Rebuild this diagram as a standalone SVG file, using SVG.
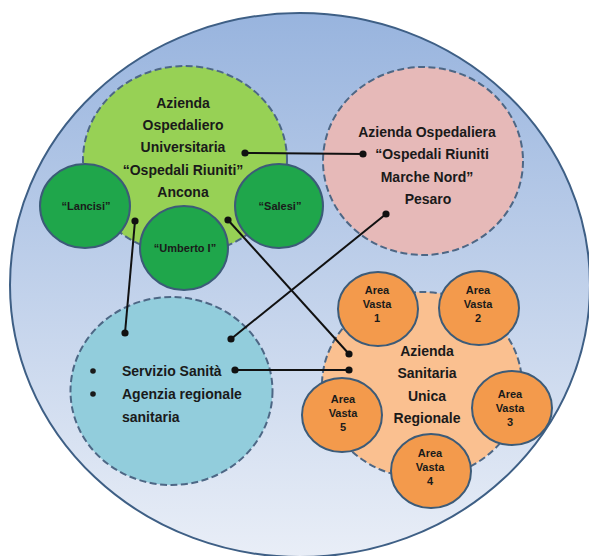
<svg xmlns="http://www.w3.org/2000/svg" width="589" height="556" viewBox="0 0 589 556">
<defs>
<linearGradient id="bg" x1="0" y1="0" x2="0" y2="1">
<stop offset="0" stop-color="#98b4de"/>
<stop offset="1" stop-color="#e9eef7"/>
</linearGradient>
<marker id="dot" viewBox="0 0 10 10" refX="5" refY="5" markerWidth="4" markerHeight="4" markerUnits="strokeWidth">
<circle cx="5" cy="5" r="4.5" fill="#111"/>
</marker>
</defs>
<style>
.dash{stroke:#4d6785;stroke-width:2;stroke-dasharray:7 3.5}
.sm{stroke:#3c5b78;stroke-width:2}
.t{font-family:"Liberation Sans",Arial,sans-serif;font-weight:bold;fill:#1a1a1a;text-anchor:middle}
.big{font-size:14px}
.s{font-size:11px}
.conn{stroke:#111;stroke-width:2;fill:none;marker-start:url(#dot);marker-end:url(#dot)}
</style>
<rect width="589" height="556" fill="#ffffff"/>
<g id="region">
<ellipse cx="300" cy="285" rx="290" ry="272" fill="url(#bg)" stroke="#3e5f85" stroke-width="2"/>
</g>
<g id="aou-ancona">
<ellipse cx="185" cy="160" rx="102" ry="94" fill="#97d155" class="dash"/>
<text class="t big" x="183" y="108">Azienda</text>
<text class="t big" x="183" y="130">Ospedaliero</text>
<text class="t big" x="183" y="152">Universitaria</text>
<text class="t big" x="183" y="175">“Ospedali Riuniti”</text>
<text class="t big" x="183" y="197">Ancona</text>
</g>
<g id="lancisi">
<ellipse cx="85" cy="206" rx="45" ry="42" fill="#1fa64b" class="sm"/>
<text class="t s" x="86" y="210">“Lancisi”</text>
</g>
<g id="salesi">
<ellipse cx="279" cy="206" rx="44" ry="42" fill="#1fa64b" class="sm"/>
<text class="t s" x="280" y="210">“Salesi”</text>
</g>
<g id="umberto">
<ellipse cx="184" cy="248" rx="44" ry="42" fill="#1fa64b" class="sm"/>
<text class="t s" x="185" y="252">“Umberto I”</text>
</g>
<g id="ao-pesaro">
<ellipse cx="423" cy="161" rx="100" ry="94" fill="#e6b9b8" class="dash"/>
<text class="t big" x="427" y="137">Azienda Ospedaliera</text>
<text class="t big" x="432" y="159">“Ospedali Riuniti</text>
<text class="t big" x="427" y="182">Marche Nord”</text>
<text class="t big" x="428" y="204">Pesaro</text>
</g>
<g id="servizio">
<ellipse cx="171.5" cy="391" rx="101" ry="94" fill="#92cddc" class="dash"/>
<circle cx="93" cy="371" r="2.8" fill="#1a1a1a"/>
<circle cx="93" cy="394" r="2.8" fill="#1a1a1a"/>
<text class="t big" x="122" y="376" style="text-anchor:start">Servizio Sanità</text>
<text class="t big" x="122" y="399" style="text-anchor:start">Agenzia regionale</text>
<text class="t big" x="122" y="422" style="text-anchor:start">sanitaria</text>
</g>
<g id="asur">
<ellipse cx="422" cy="385" rx="100" ry="93" fill="#fac090" class="dash"/>
<text class="t big" x="427" y="356">Azienda</text>
<text class="t big" x="427" y="378">Sanitaria</text>
<text class="t big" x="427" y="401">Unica</text>
<text class="t big" x="427" y="423">Regionale</text>
</g>
<g id="av1">
<ellipse cx="378" cy="309" rx="40" ry="37" fill="#f39a4c" class="sm"/>
<text class="t s" x="377" y="294">Area</text>
<text class="t s" x="377" y="308">Vasta</text>
<text class="t s" x="377" y="322">1</text>
</g>
<g id="av2">
<ellipse cx="479" cy="308" rx="40" ry="37" fill="#f39a4c" class="sm"/>
<text class="t s" x="478" y="294">Area</text>
<text class="t s" x="478" y="308">Vasta</text>
<text class="t s" x="478" y="322">2</text>
</g>
<g id="av3">
<ellipse cx="512" cy="408" rx="40" ry="37" fill="#f39a4c" class="sm"/>
<text class="t s" x="510" y="398">Area</text>
<text class="t s" x="510" y="412">Vasta</text>
<text class="t s" x="510" y="426">3</text>
</g>
<g id="av4">
<ellipse cx="431" cy="471" rx="40" ry="37" fill="#f39a4c" class="sm"/>
<text class="t s" x="430" y="457">Area</text>
<text class="t s" x="430" y="471">Vasta</text>
<text class="t s" x="430" y="485">4</text>
</g>
<g id="av5">
<ellipse cx="342" cy="415" rx="40" ry="37" fill="#f39a4c" class="sm"/>
<text class="t s" x="343" y="403">Area</text>
<text class="t s" x="343" y="417">Vasta</text>
<text class="t s" x="343" y="431">5</text>
</g>
<g id="connectors">
<line class="conn" x1="245" y1="153" x2="363" y2="154"/>
<line class="conn" x1="135" y1="221" x2="125" y2="333"/>
<line class="conn" x1="228" y1="220" x2="349" y2="354"/>
<line class="conn" x1="386" y1="214" x2="231" y2="339"/>
<line class="conn" x1="235" y1="370" x2="349" y2="370"/>
</g>
</svg>
